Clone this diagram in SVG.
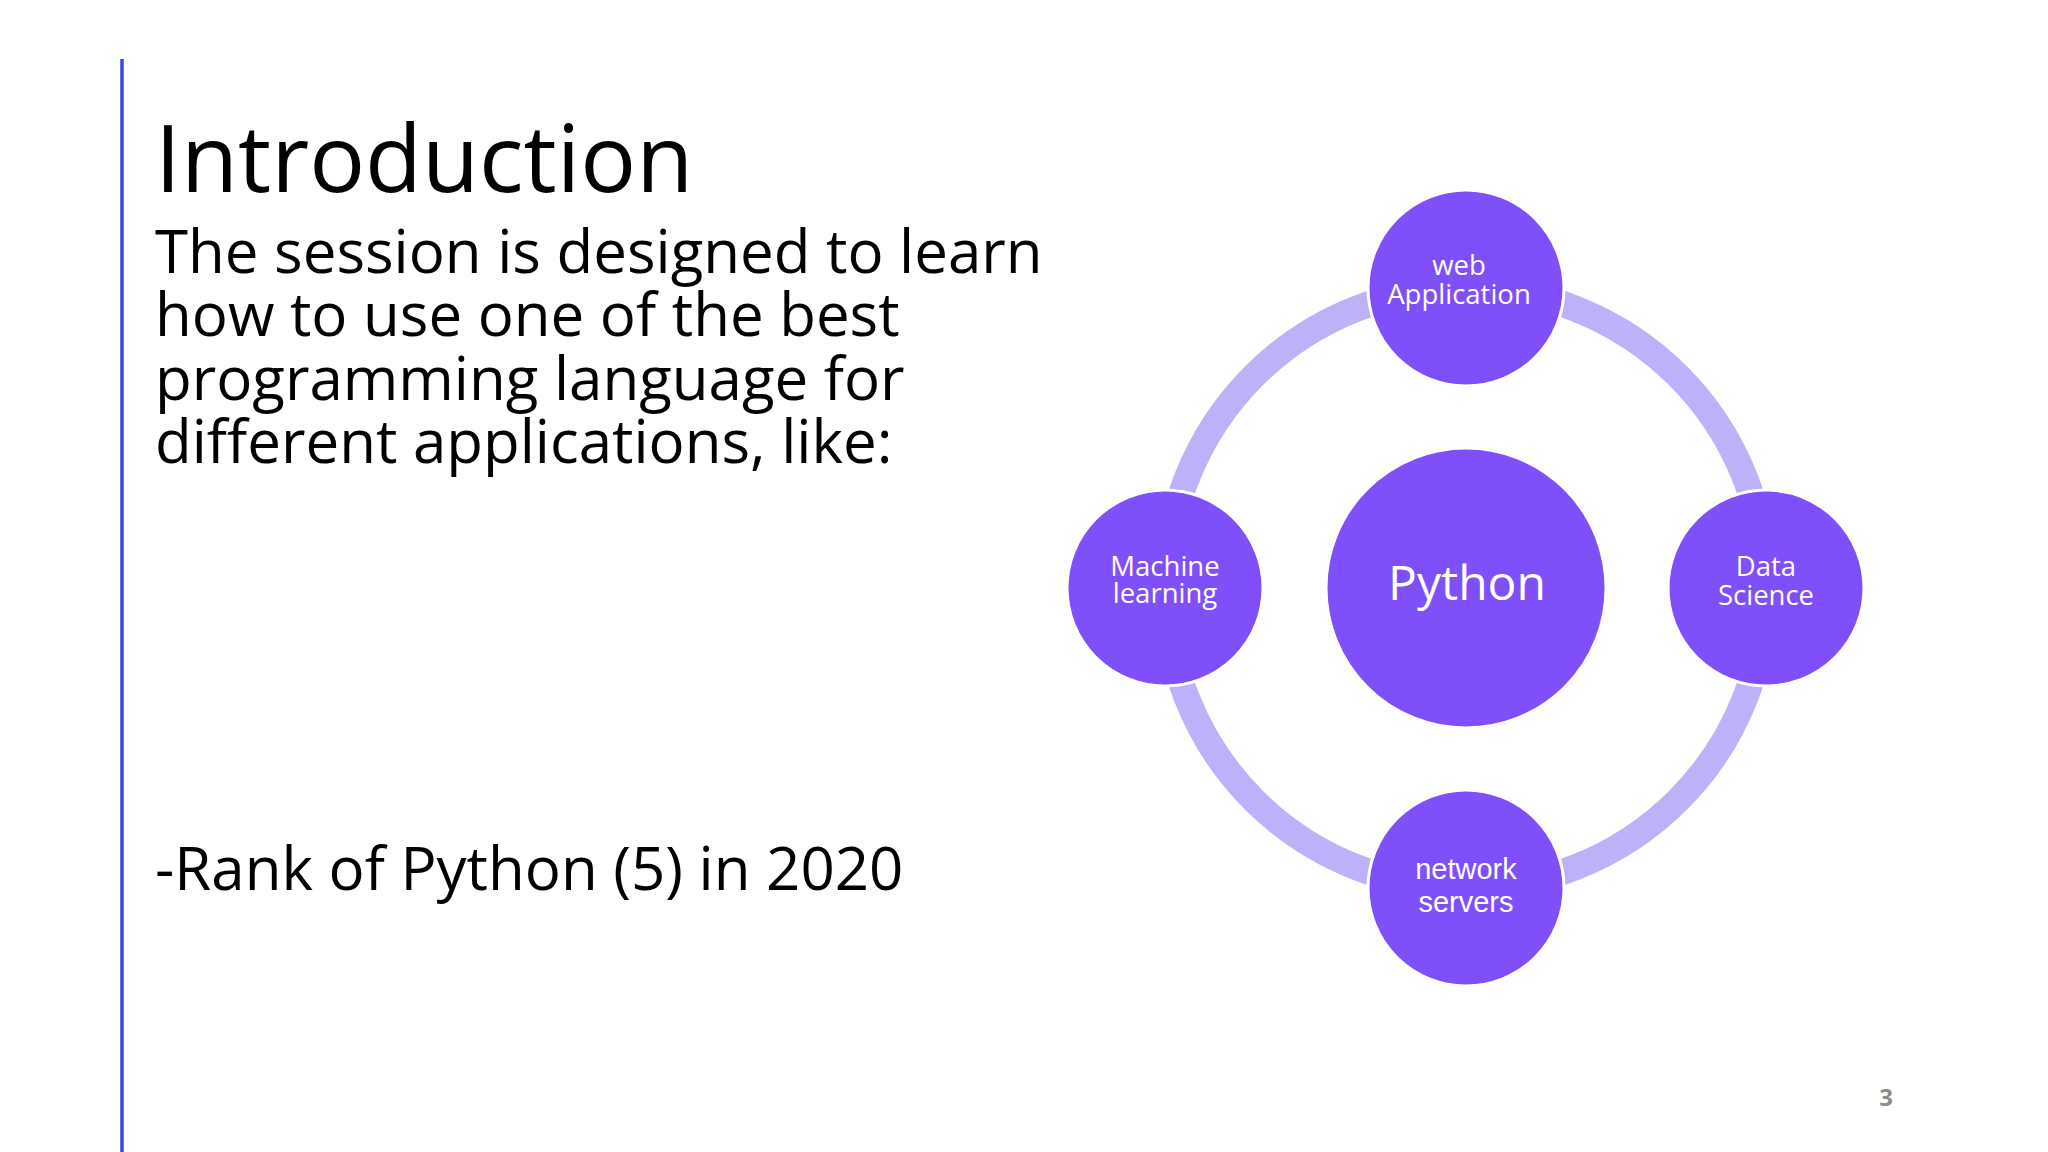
<svg xmlns="http://www.w3.org/2000/svg" width="2048" height="1152" viewBox="0 0 2048 1152">
<style>
.txt{font-family:"Open Sans","DejaVu Sans",sans-serif;fill:#000}
.lbl{font-family:"Open Sans","DejaVu Sans",sans-serif;fill:#fff;font-size:27.5px;text-anchor:middle}
.lbla{font-family:"Liberation Sans",Arial,sans-serif;fill:#fff;font-size:29px;text-anchor:middle}
.node{fill:#7F4FFA;stroke:#fff;stroke-width:3}
</style>
<rect width="2048" height="1152" fill="#fff"/>
<line x1="122" y1="59" x2="122" y2="1152" stroke="#3347E6" stroke-width="3.5"/>
<text class="txt" x="155" y="192" style="font-size:93px">Introduction</text>
<g>
<text class="txt" x="155" y="273" style="font-size:60px">The session is designed to learn</text>
<text class="txt" x="155" y="336" style="font-size:60px">how to use one of the best</text>
<text class="txt" x="155" y="400" style="font-size:60px">programming language for</text>
<text class="txt" x="155" y="463" style="font-size:60px">different applications, like:</text>
<text class="txt" x="155" y="890" style="font-size:60px">-Rank of Python (5) in 2020</text>
</g>
<g id="connectors">
<circle cx="1466" cy="588" r="300" fill="none" stroke="#BDB1F9" stroke-width="26"/>
</g>
<g id="node-python">
<circle class="node" cx="1466" cy="588" r="140"/>
<text class="lbl" x="1467" y="600" style="font-size:48px">Python</text>
</g>
<g id="node-web">
<circle class="node" cx="1466" cy="288" r="98"/>
<text class="lbl" x="1459" y="275">web</text>
<text class="lbl" x="1459" y="304">Application</text>
</g>
<g id="node-ml">
<circle class="node" cx="1165" cy="588" r="98"/>
<text class="lbl" x="1165" y="576">Machine</text>
<text class="lbl" x="1165" y="603">learning</text>
</g>
<g id="node-ds">
<circle class="node" cx="1766" cy="588" r="98"/>
<text class="lbl" x="1766" y="576">Data</text>
<text class="lbl" x="1766" y="605">Science</text>
</g>
<g id="node-net">
<circle class="node" cx="1466" cy="888" r="98"/>
<text class="lbla" x="1466" y="879">network</text>
<text class="lbla" x="1466" y="912">servers</text>
</g>
<text x="1886" y="1106" font-family="'Open Sans','DejaVu Sans',sans-serif" font-weight="bold" font-size="24" fill="#8A8A8A" text-anchor="middle">3</text>
</svg>
